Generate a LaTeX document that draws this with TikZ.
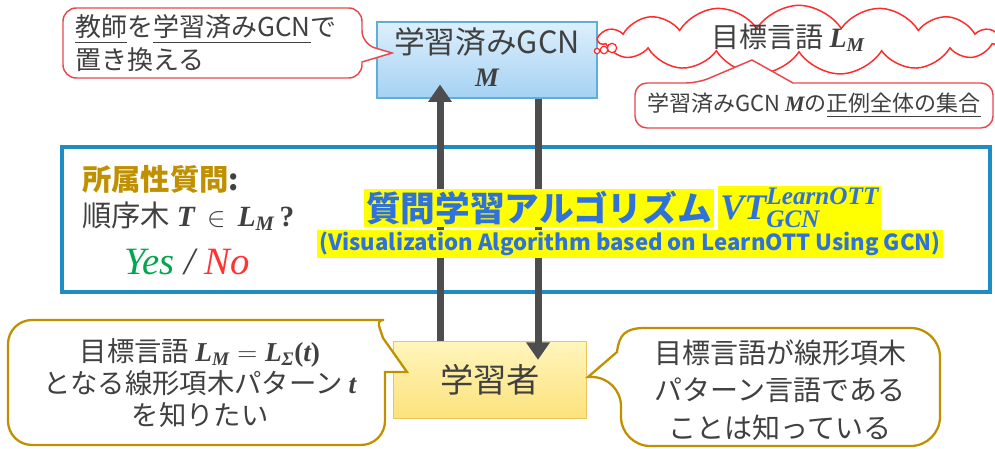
\documentclass[tikz,border=0pt]{standalone}
\usepackage{fontspec}
\usepackage{amsmath}
\setmainfont{Noto Sans CJK JP}
\newfontfamily\serifbi{Liberation Serif}
\usetikzlibrary{shapes.symbols,arrows.meta,calc}
\definecolor{txt}{HTML}{404040}
\definecolor{calred}{HTML}{E8474C}
\definecolor{cloudred}{HTML}{FF2A2A}
\definecolor{gold}{HTML}{BF9000}
\definecolor{frameblue}{HTML}{1F8DC4}
\definecolor{titleblue}{HTML}{2F72DA}
\definecolor{hl}{HTML}{FFFF00}
\definecolor{arrowgray}{HTML}{4D4D4D}
\definecolor{yesgreen}{HTML}{00A650}
\definecolor{nored}{HTML}{FF3333}
\definecolor{gcntop}{HTML}{DDEFFC}
\definecolor{gcnbot}{HTML}{A5D2F3}
\definecolor{gcnborder}{HTML}{5FAED8}
\definecolor{ltop}{HTML}{FFF5BC}
\definecolor{lbot}{HTML}{FCE27C}
\definecolor{lborder}{HTML}{EAC55A}
\newcommand{\mvar}[1]{\text{\serifbi\bfseries\itshape #1}}
\newcommand{\mup}[1]{\text{\serifbi\bfseries #1}}
\tikzset{
  callred/.style={draw=calred, line width=1.1pt, fill=white},
  callgold/.style={draw=gold, line width=1.7pt, fill=white},
  lbl/.style={text=txt, inner sep=0pt, align=center},
  bigarrow/.style={draw=arrowgray, line width=5.25pt, -{Triangle[width=17pt,length=13pt]}},
  hlbox/.style={fill=hl, inner sep=1.5pt, text=titleblue},
}
\begin{document}
\begin{tikzpicture}[x=0.75pt,y=-0.75pt]
\fill[white] (0,0) rectangle (995,449);
\path[use as bounding box] (0,0) rectangle (995,449);

% blue frame
\node[draw=frameblue, line width=2.4pt, minimum width=696pt, minimum height=108.75pt, inner sep=0pt] (frame) at (526,219.5) {};

% GCN box
\node[draw=gcnborder, line width=0.8pt, top color=gcntop, bottom color=gcnbot, minimum width=165pt, minimum height=57pt, inner sep=0pt] (gcn) at (487,60) {};
\node[lbl, font=\fontsize{23}{26}\selectfont] (gcnt) at (487,42) {学習済みGCN};
\node[lbl, font=\fontsize{20}{24}\selectfont] (gcnm) at (487,78) {$\mvar{M}$};

% learner box
\node[draw=lborder, line width=0.8pt, top color=ltop, bottom color=lbot, minimum width=145pt, minimum height=58pt, inner sep=0pt] (learner) at (490,380) {};
\node[lbl, font=\fontsize{25}{28}\selectfont] (lt) at (490,380) {学習者};

% arrows
\coordinate (upx) at (440,0);
\coordinate (dnx) at (538,0);
\draw[bigarrow] (upx |- learner.north) -- ($(upx |- gcn.south)+(0,-14)$);
\draw[bigarrow] (dnx |- gcn.south) -- ($(dnx |- learner.north)+(0,19)$);

% frame texts
\node[anchor=west, inner sep=0pt, text=gold, font=\fontsize{22}{25}\selectfont\bfseries] (q1) at (82,179) {所属性質問\textcolor{txt}{:}};
\node[anchor=west, lbl, font=\fontsize{22}{25}\selectfont] (q2) at (82,216) {順序木 $\mvar{T}\,\in\,\mvar{L}_{\mvar{M}}$\,\mup{?}};
\node[lbl, font=\fontsize{29}{32}\serifbi\itshape] (yn) at (187,262) {\textcolor{yesgreen}{Yes} / \textcolor{nored}{No}};

% title
\node[hlbox, anchor=west, font=\fontsize{26}{30}\selectfont\bfseries] (title) at (364,208) {質問学習アルゴリズム};
\node[hlbox, anchor=west, font=\fontsize{27}{30}\selectfont] (vt) at ($(title.east)+(4,0)$) {$\mvar{VT}^{\mvar{LearnOTT}}_{\mvar{GCN}}$};
\node[hlbox, font=\fontsize{16.6}{19}\selectfont\bfseries] (sub) at (630,244) {(Visualization Algorithm based on LearnOTT Using GCN)};

% top-left callout
\draw[callred, rounded corners=10pt] (200,8) -- (362,8) -- (362,44) [sharp corners] -- (392,53) -- (362,62) [rounded corners=10pt] -- (362,78) -- (63,78) -- (63,8) -- cycle;
\node[lbl, align=left, anchor=west, font=\fontsize{19.5}{25}\selectfont] (tl) at (75,43) {\underline{教師}を\underline{学習済みGCN}で\\置き換える};

% cloud
\node[cloud, draw=cloudred, line width=1.1pt, fill=white, cloud puffs=15, cloud puff arc=115, cloud ignores aspect, minimum width=300pt, minimum height=52pt, inner sep=0pt] (cloud) at (799,40) {};
\draw[cloudred, line width=0.9pt, fill=white] (597,51) circle (2pt) (604,50) circle (2.8pt) (612,48) circle (3.5pt);
\node[lbl, font=\fontsize{21}{24}\selectfont] (ct) at (788,38) {目標言語 $\mvar{L}_{\mvar{M}}$};

% cloud callout
\draw[callred, rounded corners=9pt] (660,83) -- (698,83) [sharp corners] -- (752,60) -- (793,83) [rounded corners=9pt] -- (993,83) -- (993,128) -- (635,128) -- (635,83) -- cycle;
\node[lbl, font=\fontsize{16.5}{19}\selectfont] (cct) at (814,105) {学習済みGCN $\mvar{M}$の\underline{正例全体の集合}};

% bottom-left callout
\draw[callgold, rounded corners=18pt] (200,320) -- (360,320) [sharp corners] .. controls (375,320) and (380,328) .. (383,338) -- (407,372) -- (385,372) [rounded corners=18pt] -- (385,445) -- (8,445) -- (8,320) -- cycle;
\node[lbl, font=\fontsize{20.5}{24}\selectfont] (blt) at (200,383) {目標言語 $\mvar{L}_{\mvar{M}} = \mvar{L}_{\mvar{Σ}}\mup{(}\mvar{t}\mup{)}$\\となる線形項木パターン $\mvar{t}$\\を知りたい};

% bottom-right callout
\draw[callgold, rounded corners=22pt] (780,328) -- (940,328) -- (940,446) -- (621,446) -- (621,377) [sharp corners] -- (588,377) -- (617,352) .. controls (619,335) and (625,328) .. (645,328) -- cycle;
\node[lbl, font=\fontsize{21}{28}\selectfont] (brt) at (780,390) {目標言語が線形項木\\パターン言語である\\ことは知っている};
\end{tikzpicture}
\end{document}
